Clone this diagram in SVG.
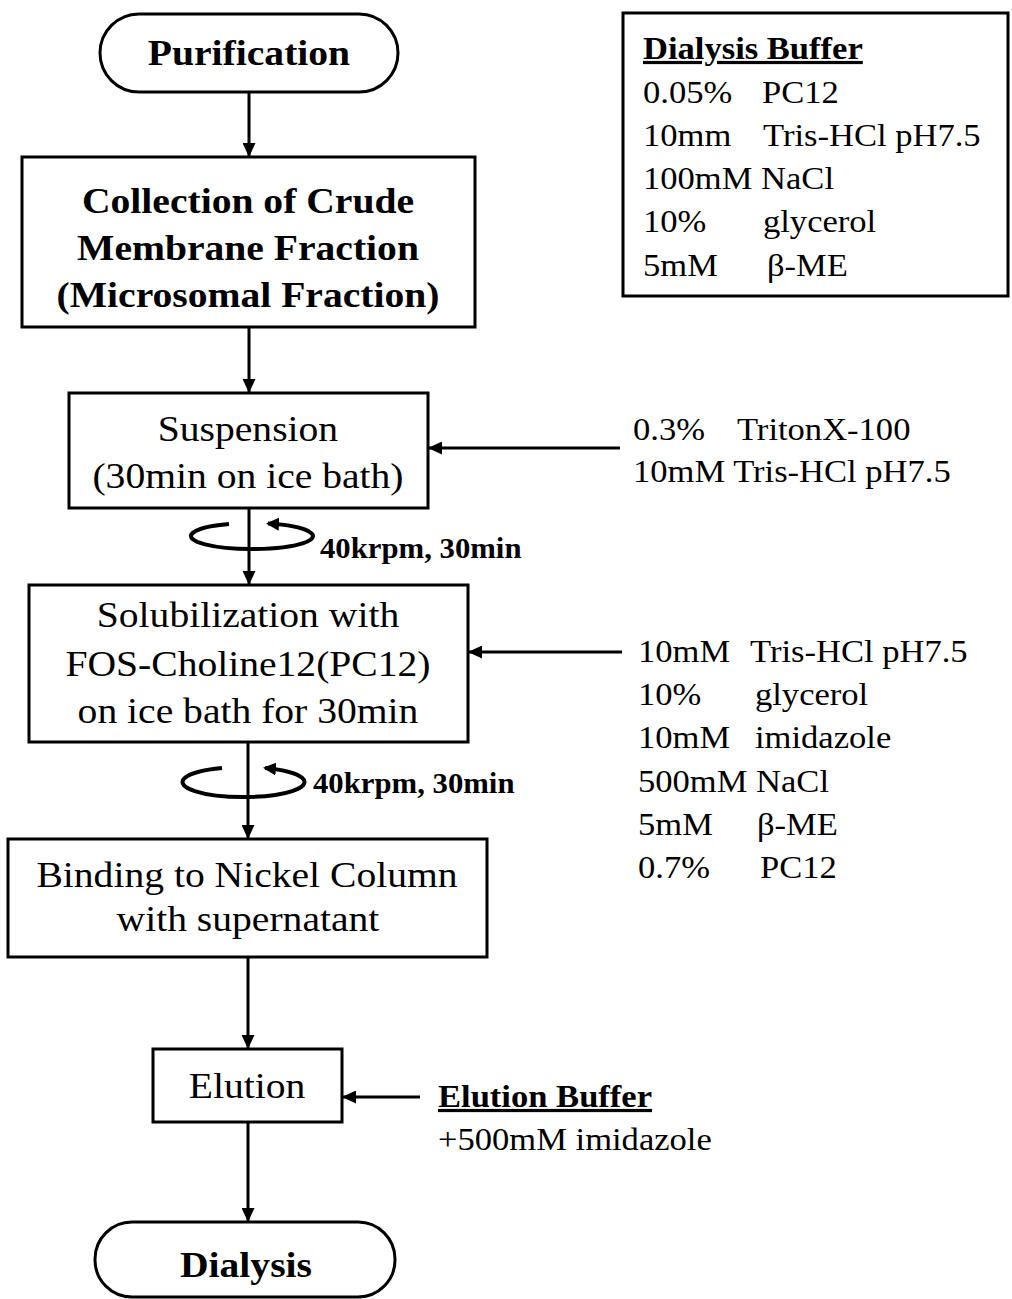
<svg xmlns="http://www.w3.org/2000/svg" width="1012" height="1299" viewBox="0 0 1012 1299">
<style>
.box{fill:#fff;stroke:#000;stroke-width:3}
.ln{stroke:#000;stroke-width:3;fill:none}
.rot{stroke:#000;stroke-width:4;fill:none}
text{font-family:"Liberation Serif","Times New Roman",serif;fill:#000}
.t{font-size:36px;text-anchor:middle;transform-box:fill-box;transform-origin:50% 50%;transform:scaleX(1.1)}
.b{font-weight:bold}
.r{font-size:32px;text-anchor:start;transform-box:fill-box;transform-origin:0 50%;transform:scaleX(1.08)}
.u{text-decoration:underline}
.rpm{font-size:29px;font-weight:bold;text-anchor:start;transform-box:fill-box;transform-origin:0 50%;transform:scaleX(1.06)}
</style>
<defs>
<marker id="ah" markerUnits="userSpaceOnUse" markerWidth="14" markerHeight="13" refX="14" refY="6.5" orient="auto">
<path d="M0,0 L14,6.5 L0,13 z" fill="#000"/>
</marker>
<marker id="ahs" markerUnits="userSpaceOnUse" markerWidth="13" markerHeight="13" refX="11" refY="6.5" orient="auto">
<path d="M0,0 L13,6.5 L0,13 z" fill="#000"/>
</marker>
</defs>
<rect width="1012" height="1299" fill="#fff"/>

<g id="purification">
<rect class="box" x="100" y="14" width="298" height="78" rx="39" ry="39"/>
<text class="t b" x="249" y="65">Purification</text>
</g>

<g id="collection">
<rect class="box" x="22" y="157" width="453" height="170"/>
<text class="t b" x="248" y="213">Collection of Crude</text>
<text class="t b" x="248" y="260">Membrane Fraction</text>
<text class="t b" x="248" y="307">(Microsomal Fraction)</text>
</g>

<g id="suspension">
<rect class="box" x="69" y="393" width="359" height="115"/>
<text class="t" x="248" y="441">Suspension</text>
<text class="t" x="248" y="488">(30min on ice bath)</text>
</g>

<g id="solubilization">
<rect class="box" x="29" y="585" width="439" height="157"/>
<text class="t" x="248" y="627">Solubilization with</text>
<text class="t" x="248" y="676">FOS-Choline12(PC12)</text>
<text class="t" x="248" y="723">on ice bath for 30min</text>
</g>

<g id="binding">
<rect class="box" x="8" y="839" width="479" height="118"/>
<text class="t" x="247" y="887">Binding to Nickel Column</text>
<text class="t" x="248" y="931">with supernatant</text>
</g>

<g id="elution">
<rect class="box" x="153" y="1049" width="189" height="73"/>
<text class="t" x="247" y="1098">Elution</text>
</g>

<g id="dialysis">
<rect class="box" x="95" y="1222" width="300" height="75" rx="37" ry="37"/>
<text class="t b" x="246" y="1277">Dialysis</text>
</g>

<g id="dialysis-buffer">
<rect class="box" x="623" y="13" width="385" height="283"/>
<text class="r b u" x="643" y="59">Dialysis Buffer</text>
<text class="r" x="643" y="103">0.05%</text><text class="r" x="762" y="103">PC12</text>
<text class="r" x="643" y="146">10mm</text><text class="r" x="763" y="146">Tris-HCl pH7.5</text>
<text class="r" x="643" y="189">100mM NaCl</text>
<text class="r" x="643" y="232">10%</text><text class="r" x="763" y="232">glycerol</text>
<text class="r" x="643" y="276">5mM</text><text class="r" x="767" y="276">β-ME</text>
</g>

<g id="suspension-buffer">
<text class="r" x="633" y="440">0.3%</text><text class="r" x="737" y="440">TritonX-100</text>
<text class="r" x="633" y="482">10mM Tris-HCl pH7.5</text>
</g>

<g id="solubilization-buffer">
<text class="r" x="638" y="662">10mM</text><text class="r" x="750" y="662">Tris-HCl pH7.5</text>
<text class="r" x="638" y="705">10%</text><text class="r" x="755" y="705">glycerol</text>
<text class="r" x="638" y="748">10mM</text><text class="r" x="755" y="748">imidazole</text>
<text class="r" x="638" y="792">500mM NaCl</text>
<text class="r" x="638" y="835">5mM</text><text class="r" x="757" y="835">β-ME</text>
<text class="r" x="638" y="878">0.7%</text><text class="r" x="760" y="878">PC12</text>
</g>

<g id="elution-buffer">
<text class="r b u" x="438" y="1107">Elution Buffer</text>
<text class="r" x="438" y="1150">+500mM imidazole</text>
</g>

<g id="connectors">
<line class="ln" x1="249" y1="92" x2="249" y2="157" marker-end="url(#ah)"/>
<line class="ln" x1="249" y1="327" x2="249" y2="393" marker-end="url(#ah)"/>
<line class="ln" x1="249" y1="508" x2="249" y2="585" marker-end="url(#ah)"/>
<line class="ln" x1="248" y1="742" x2="248" y2="839" marker-end="url(#ah)"/>
<line class="ln" x1="248" y1="957" x2="248" y2="1049" marker-end="url(#ah)"/>
<line class="ln" x1="248" y1="1122" x2="248" y2="1222" marker-end="url(#ah)"/>
<line class="ln" x1="620" y1="448" x2="428" y2="448" marker-end="url(#ah)"/>
<line class="ln" x1="622" y1="652" x2="468" y2="652" marker-end="url(#ah)"/>
<line class="ln" x1="420" y1="1097" x2="342" y2="1097" marker-end="url(#ah)"/>
<path class="rot" d="M229,524 A61,13 0 1 0 268,523.5" marker-end="url(#ahs)"/>
<text class="rpm" x="320" y="558">40krpm, 30min</text>
<path class="rot" d="M222,768 A61,15 0 1 0 265,768" marker-end="url(#ahs)"/>
<text class="rpm" x="313" y="793">40krpm, 30min</text>
</g>
</svg>
